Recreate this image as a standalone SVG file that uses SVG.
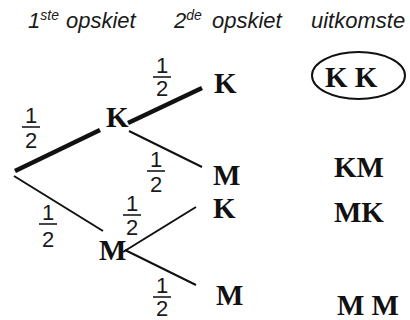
<svg xmlns="http://www.w3.org/2000/svg" width="410" height="320" viewBox="0 0 410 320">
<style>
.hdr{font-family:"Liberation Sans",Arial,sans-serif;font-style:italic;font-size:22px;fill:#1a1a1a}
.sup{font-size:14px}
.lbl{font-family:"Liberation Serif","Times New Roman",serif;font-weight:bold;font-size:29px;fill:#111}
.frac{font-family:"Liberation Sans",Arial,sans-serif;font-size:22px;fill:#1a1a1a;text-anchor:middle}
.bar{stroke:#1a1a1a;stroke-width:1.6}
.thick{stroke:#111;stroke-width:4.5;fill:none}
.thin{stroke:#111;stroke-width:2;fill:none}
</style>
<rect width="410" height="320" fill="#fff"/>
<g id="headers">
<text class="hdr" x="28" y="28">1<tspan class="sup" dy="-8">ste</tspan></text>
<text class="hdr" x="66" y="28">opskiet</text>
<text class="hdr" x="174" y="28">2<tspan class="sup" dy="-8">de</tspan></text>
<text class="hdr" x="212" y="28">opskiet</text>
<text class="hdr" x="311" y="28">uitkomste</text>
</g>
<g id="connectors">
<line class="thick" x1="15" y1="171" x2="100" y2="130"/>
<line class="thick" x1="128" y1="123" x2="202" y2="88"/>
<line class="thin" x1="14" y1="176" x2="103" y2="231"/>
<line class="thin" x1="129" y1="131" x2="202" y2="167"/>
<line class="thin" x1="123" y1="252" x2="196" y2="207"/>
<line class="thin" x1="125" y1="250" x2="196" y2="285"/>
</g>
<g id="fractions">
<g id="f1"><text class="frac" x="162" y="73">1</text><line class="bar" x1="153" y1="77" x2="171" y2="77"/><text class="frac" x="162" y="96">2</text></g>
<g id="f2"><text class="frac" x="31" y="123">1</text><line class="bar" x1="22" y1="127" x2="40" y2="127"/><text class="frac" x="31" y="148">2</text></g>
<g id="f3"><text class="frac" x="156" y="167">1</text><line class="bar" x1="147" y1="171" x2="165" y2="171"/><text class="frac" x="156" y="192">2</text></g>
<g id="f4"><text class="frac" x="132" y="211">1</text><line class="bar" x1="123" y1="215" x2="141" y2="215"/><text class="frac" x="132" y="235">2</text></g>
<g id="f5"><text class="frac" x="48" y="220">1</text><line class="bar" x1="39" y1="224" x2="57" y2="224"/><text class="frac" x="48" y="247">2</text></g>
<g id="f6"><text class="frac" x="162" y="293">1</text><line class="bar" x1="153" y1="297" x2="171" y2="297"/><text class="frac" x="162" y="316">2</text></g>
</g>
<g id="node-K1"><text class="lbl" x="106" y="127">K</text></g>
<g id="node-M1"><text class="lbl" x="99" y="260">M</text></g>
<g id="node-KK"><text class="lbl" x="214" y="93">K</text></g>
<g id="node-KM"><text class="lbl" x="213" y="185">M</text></g>
<g id="node-MK"><text class="lbl" x="213" y="218">K</text></g>
<g id="node-MM"><text class="lbl" x="216" y="305">M</text></g>
<g id="outcome-KK"><ellipse cx="358.5" cy="75.5" rx="46.5" ry="23.5" fill="none" stroke="#111" stroke-width="2"/><text class="lbl" x="325" y="87">K K</text></g>
<g id="outcome-KM"><text class="lbl" x="334" y="177">KM</text></g>
<g id="outcome-MK"><text class="lbl" x="334" y="222">MK</text></g>
<g id="outcome-MM"><text class="lbl" x="337" y="315">M M</text></g>
</svg>
